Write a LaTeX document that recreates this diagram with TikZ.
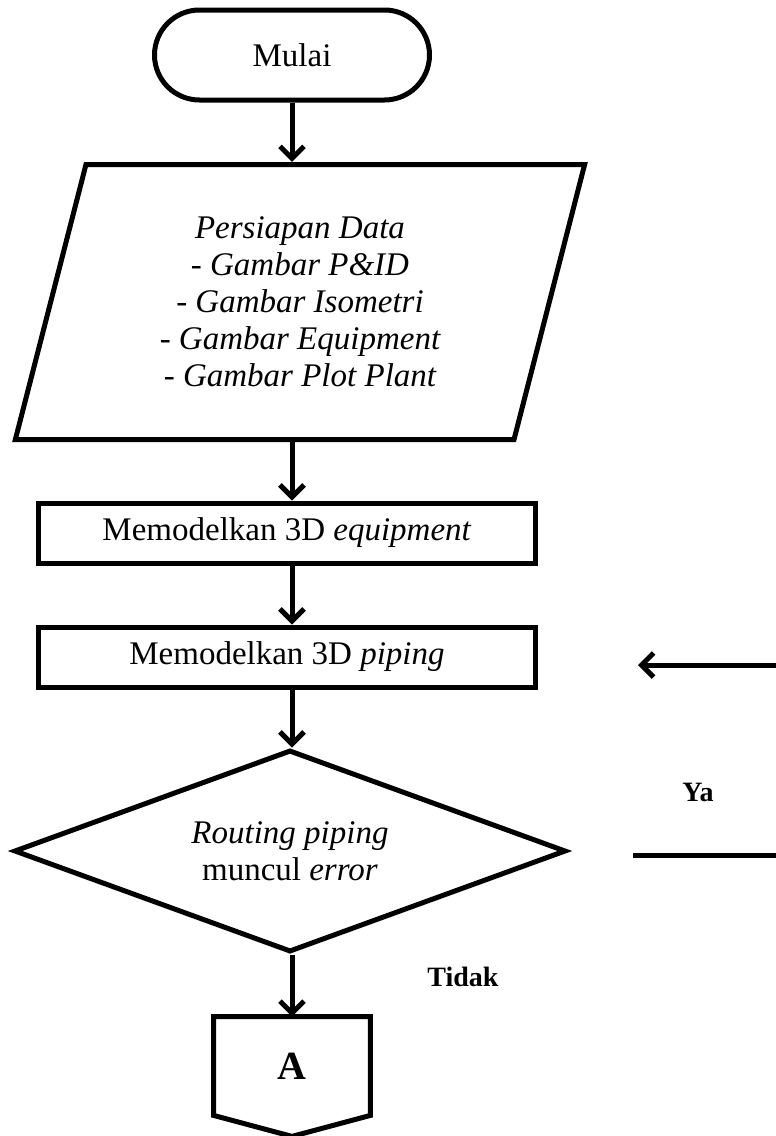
\documentclass[tikz,border=0pt]{standalone}
\usepackage{fontspec}
\setmainfont{Liberation Serif}
\usepackage{tikz}
\usetikzlibrary{arrows.meta,shapes.geometric}

\tikzset{
  base/.style={draw, line width=2.5pt, font=\fontsize{16.5}{18.5}\selectfont, align=center},
  terminal/.style={base, rounded corners=22.5pt, minimum width=137.5pt, minimum height=45pt},
  datain/.style={base, trapezium, trapezium left angle=75.2, trapezium right angle=104.8,
    trapezium stretches=true, minimum width=285pt, minimum height=137.5pt},
  process/.style={base, minimum width=248.5pt, minimum height=30pt},
  decision/.style={base, diamond, aspect=2.7, inner sep=0pt, minimum width=276pt, minimum height=101pt},
  arrow/.style={line width=2.5pt, -{Straight Barb[length=6pt,width=12pt]}},
  flowline/.style={line width=2.5pt},
  answer/.style={font=\fontsize{14}{16}\selectfont\bfseries}
}

\begin{document}
\begin{tikzpicture}[x=0.5pt, y=-0.5pt]
      \useasboundingbox (0,0) rectangle (776,1136);
      \node[terminal] (mulai) at (292,55) {Mulai};
      \node[datain] (data) at (300,302) {\itshape Persiapan Data\\ \itshape - Gambar P\&ID\\ \itshape - Gambar Isometri\\ \itshape - Gambar Equipment\\ \itshape - Gambar Plot Plant};
      \node[process] (box1) at (287,533) {Memodelkan 3D \textit{equipment}};
      \node[process] (box2) at (287,657) {Memodelkan 3D \textit{piping}};
      \node[decision] (cek) at (290,851) {\textit{Routing piping}\\ muncul \textit{error}};
      \node[minimum width=78pt, minimum height=49pt, inner sep=0pt, font=\fontsize{20}{22}\selectfont\bfseries] (A) at (292,1066) {A};
      \draw[flowline] (A.north west) -- (A.north east) -- (A.south east) -- ([yshift=-10.5pt]A.south) -- (A.south west) -- cycle;
      \node[answer] (tidak) at (463,977) {Tidak};
      \node[answer] (ya) at (698,792) {Ya};
      % loop kembali (terpotong di tepi kanan)
      \coordinate (ya1) at (633,855);
      \coordinate (ya2) at (778,855);
      \coordinate (ya3) at (778,665);
      \coordinate (ya4) at (638,665);
      \draw[arrow] (mulai.south) -- (data.north -| mulai.south);
      \draw[arrow] (data.south -| mulai.south) -- (box1.north -| mulai.south);
      \draw[arrow] (box1.south -| mulai.south) -- (box2.north -| mulai.south);
      \draw[arrow] (box2.south -| mulai.south) -- (cek.north -| mulai.south);
      \draw[arrow] (cek.south -| mulai.south) -- (A.north);
      \draw[arrow] (ya1) -- (ya2) -- (ya3) -- (ya4);
\end{tikzpicture}
\end{document}
